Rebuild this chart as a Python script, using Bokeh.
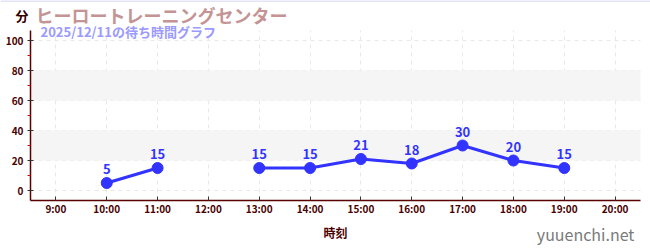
from bokeh.plotting import figure
from bokeh.models import (ColumnDataSource, FixedTicker, BoxAnnotation, Label, LabelSet, Range1d, Span)
from bokeh.core.properties import value
from bokeh.embed import file_html
from bokeh.resources import INLINE
import math

title = "ヒーロートレーニングセンター"
subtitle = "2025/12/11の待ち時間グラフ"
hours = [10, 11, 12, 13, 14, 15, 16, 17, 18, 19]
waits = [5, 15, float("nan"), 15, 15, 21, 18, 30, 20, 15]
tick_hours = [9, 10, 11, 12, 13, 14, 15, 16, 17, 18, 19, 20]
tick_labels = [f"{h}:00" for h in tick_hours]
y_ticks = [0, 20, 40, 60, 80, 100]
y_minor = [10, 30, 50, 70, 90]
bands = [(20, 40), (60, 80)]

FONT = "Noto Sans CJK JP"
DARK = "#4a0000"
X0, X1 = 8.5, 20.5
Y0, Y1 = -6.667, 106.667

p = figure(width=650, height=250, output_backend="svg", toolbar_location=None,
           x_range=Range1d(7.9098, 20.6967), y_range=Range1d(-40, 126.667),
           min_border=0)
p.outline_line_color = None
p.background_fill_color = "white"

for lo, hi in bands:
    p.add_layout(BoxAnnotation(bottom=lo, top=hi, left=X0, right=X1, fill_color="#f5f5f5",
                               fill_alpha=1, line_color=None, level="underlay"))
p.add_layout(Span(location=126.4, dimension="width", line_color="#e4e4f8", line_width=2))

p.xaxis.fixed_location = Y0
p.yaxis.fixed_location = X0
p.xaxis.bounds = (X0, X1)
p.yaxis.bounds = (Y0, Y1)
p.xaxis.ticker = FixedTicker(ticks=tick_hours)
p.xaxis.major_label_overrides = {h: l for h, l in zip(tick_hours, tick_labels)}
p.yaxis.ticker = FixedTicker(ticks=y_ticks, minor_ticks=y_minor)

for ax in (p.xaxis, p.yaxis):
    ax.axis_line_color = "#5a0000"
    ax.axis_line_width = 1.5
    ax.major_tick_line_color = "#333333"
    ax.major_label_text_color = DARK
    ax.major_label_text_font = FONT
    ax.major_label_text_font_style = "bold"
    ax.major_label_text_font_size = "10px"
p.yaxis.major_tick_in = 3
p.yaxis.major_tick_out = 3
p.xaxis.major_tick_in = 4
p.xaxis.major_tick_out = 0
p.xaxis.minor_tick_line_color = None
p.yaxis.minor_tick_line_color = "#dd0000"
p.yaxis.minor_tick_in = 0
p.yaxis.minor_tick_out = 3
p.yaxis.major_label_standoff = 4
p.xaxis.major_label_standoff = 0
p.xaxis.axis_label = "時刻"
p.xaxis.axis_label_text_font = FONT
p.xaxis.axis_label_text_font_style = "bold"
p.xaxis.axis_label_text_font_size = "12px"
p.xaxis.axis_label_text_color = DARK
p.xaxis.axis_label_standoff = 5

p.xgrid.ticker = FixedTicker(ticks=tick_hours)
p.ygrid.ticker = FixedTicker(ticks=y_ticks)
p.xgrid.cross_bounds = (Y0, Y1)
p.ygrid.cross_bounds = (X0, X1)
for g in (p.xgrid, p.ygrid):
    g.grid_line_color = "#e8e8e8"
    g.grid_line_dash = "4 4"
    g.grid_line_width = 1

src = ColumnDataSource(dict(x=hours, y=waits, t=[("" if math.isnan(v) else str(int(v))) for v in waits]))
p.line("x", "y", source=src, line_color="#3333ff", line_width=3)
p.scatter("x", "y", source=src, size=11, fill_color="#3333ff", line_color="#3333ff")
p.add_layout(LabelSet(x="x", y="y", text="t", source=src, text_align="center", text_baseline="middle",
                      y_offset=14, text_font=value(FONT), text_font_style="bold", text_font_size="13px",
                      text_color="#3333ff"))

p.add_layout(Label(x=8.598, y=117.3, text=title, text_font=FONT, text_font_style="bold",
                   text_font_size="18px", text_color="#c49494", text_baseline="middle"))
p.add_layout(Label(x=8.697, y=106, text=subtitle, text_font=FONT, text_font_style="bold",
                   text_font_size="13px", text_color="#9a9aff", text_baseline="middle"))
p.add_layout(Label(x=8.205, y=116.7, text="分", text_font=FONT, text_font_style="bold",
                   text_font_size="13px", text_color="#330000", text_baseline="middle"))
p.add_layout(Label(x=20.38, y=-29, text="yuuenchi.net", text_font=FONT,
                   text_font_size="16px", text_color="#7a7a7a", text_baseline="middle", text_align="right"))

open("out.html", "w").write(file_html(p, INLINE))
